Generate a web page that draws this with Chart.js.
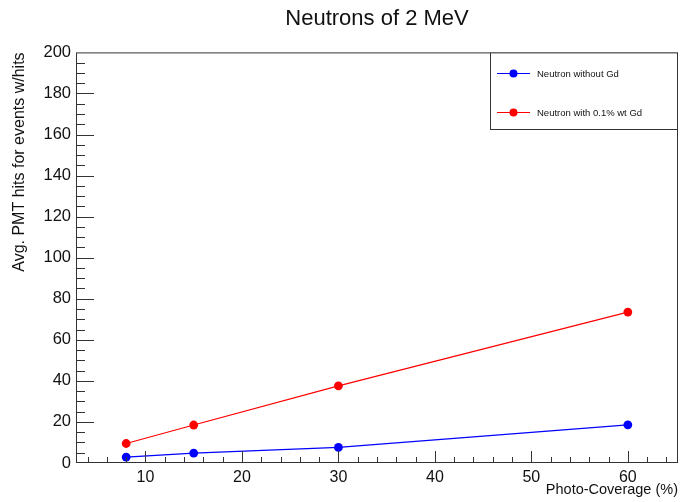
<!DOCTYPE html>
<html>
<head>
<meta charset="utf-8">
<script src="https://cdn.jsdelivr.net/npm/chart.js@4"></script>
<style>
  html, body { margin: 0; padding: 0; background: #fff; }
  #wrap { width: 680px; height: 502px; }
</style>
</head>
<body>
<div id="wrap"><canvas id="myChart" width="680" height="502"></canvas></div>
<script>
// photo-coverage (%) and average hits per event
const coverage = [8, 15, 30, 60];
const withoutGd = [2.9, 4.8, 7.6, 18.6];
const withGd = [9.5, 18.5, 37.6, 73.5];
const xTicks = [10, 20, 30, 40, 50, 60];
const yTicks = [0, 20, 40, 60, 80, 100, 120, 140, 160, 180, 200];

const FONT = "'Liberation Sans', Arial, Helvetica, sans-serif";

// ROOT style frame, inside ticks (major + minor) and legend box
const rootFrame = {
  id: 'rootFrame',
  afterDraw(chart) {
    const c = chart.ctx, a = chart.chartArea;
    const xs = chart.scales.x, ys = chart.scales.y;
    c.save();
    c.strokeStyle = '#333';
    c.lineWidth = 1;
    c.strokeRect(a.left + 0.5, a.top + 0.5, a.right - a.left - 1, a.bottom - a.top - 1);

    c.beginPath();
    // x ticks: major every 10, minor every 2
    for (let v = 4; v <= xs.max; v += 2) {
      const px = Math.round(xs.getPixelForValue(v)) + 0.5;
      const len = v % 10 === 0 ? 12 : 6;
      c.moveTo(px, a.bottom);
      c.lineTo(px, a.bottom - len);
    }
    // y ticks: major every 20, minor every 5
    for (let v = 5; v < ys.max; v += 5) {
      const py = Math.round(ys.getPixelForValue(v)) + 0.5;
      const len = v % 20 === 0 ? 18 : 9;
      c.moveTo(a.left, py);
      c.lineTo(a.left + len, py);
    }
    c.stroke();

    // legend
    const lx = 490, ly = a.top, lw = a.right - lx, lh = 130 - a.top;
    c.fillStyle = '#fff';
    c.fillRect(lx, ly, lw, lh);
    c.strokeRect(lx + 0.5, ly + 0.5, lw - 1, lh - 1);
    const rows = [73, 112];
    chart.data.datasets.forEach((ds, i) => {
      const y = rows[i];
      c.strokeStyle = ds.borderColor;
      c.beginPath();
      c.moveTo(497, y + 0.5);
      c.lineTo(530, y + 0.5);
      c.stroke();
      c.fillStyle = ds.backgroundColor;
      c.beginPath();
      c.arc(513.5, y + 0.5, 4, 0, Math.PI * 2);
      c.fill();
      c.fillStyle = '#111';
      c.font = '9.5px ' + FONT;
      c.textBaseline = 'middle';
      c.textAlign = 'left';
      c.fillText(ds.label, 537, y + 1);
    });
    c.restore();
  }
};

const toPts = (ys) => coverage.map((x, i) => ({ x: x, y: ys[i] }));

const ctx = document.getElementById('myChart');
const myChart = new Chart(ctx, {
  type: 'scatter',
  data: {
    datasets: [{
      label: 'Neutron without Gd',
      data: toPts(withoutGd),
      showLine: true,
      borderColor: '#0000ff',
      backgroundColor: '#0000ff',
      borderWidth: 1.2,
      pointRadius: 4.4,
      pointBorderWidth: 0
    }, {
      label: 'Neutron with 0.1% wt Gd',
      data: toPts(withGd),
      showLine: true,
      borderColor: '#ff0000',
      backgroundColor: '#ff0000',
      borderWidth: 1.2,
      pointRadius: 4.4,
      pointBorderWidth: 0
    }]
  },
  options: {
    responsive: false,
    animation: false,
    layout: { autoPadding: false, padding: { left: 0, right: 2, top: 0, bottom: 0 } },
    plugins: {
      legend: { display: false },
      tooltip: { enabled: false },
      title: {
        display: true,
        text: 'Neutrons of 2 MeV',
        fullSize: false,
        color: '#111',
        font: { family: FONT, size: 22, weight: 'normal', lineHeight: 1.2 },
        padding: { top: 6, bottom: 20 }
      }
    },
    scales: {
      x: {
        type: 'linear',
        min: 2.8,
        max: 65.2,
        afterBuildTicks: s => { s.ticks = xTicks.map(v => ({ value: v })); },
        afterFit: s => { s.height = 39; s.paddingLeft = 0; s.paddingRight = 0; },
        grid: { display: false, drawTicks: false },
        border: { display: false },
        ticks: { color: '#111', padding: 5, font: { family: FONT, size: 16 } },
        title: {
          display: true,
          text: 'Photo-Coverage (%)',
          align: 'end',
          color: '#111',
          font: { family: FONT, size: 14.5, lineHeight: 1.2 },
          padding: { top: 0, bottom: 3 }
        }
      },
      y: {
        type: 'linear',
        min: 0,
        max: 200,
        afterBuildTicks: s => { s.ticks = yTicks.map(v => ({ value: v })); },
        afterFit: s => { s.width = 76; s.paddingTop = 0; s.paddingBottom = 0; },
        grid: { display: false, drawTicks: false },
        border: { display: false },
        ticks: { color: '#111', padding: 5, font: { family: FONT, size: 16.5 } },
        title: {
          display: true,
          text: 'Avg. PMT hits for events w/hits',
          align: 'end',
          color: '#111',
          font: { family: FONT, size: 16, lineHeight: 1.2 },
          padding: { top: 10, bottom: 0 }
        }
      }
    }
  },
  plugins: [rootFrame]
});
</script>
</body>
</html>
